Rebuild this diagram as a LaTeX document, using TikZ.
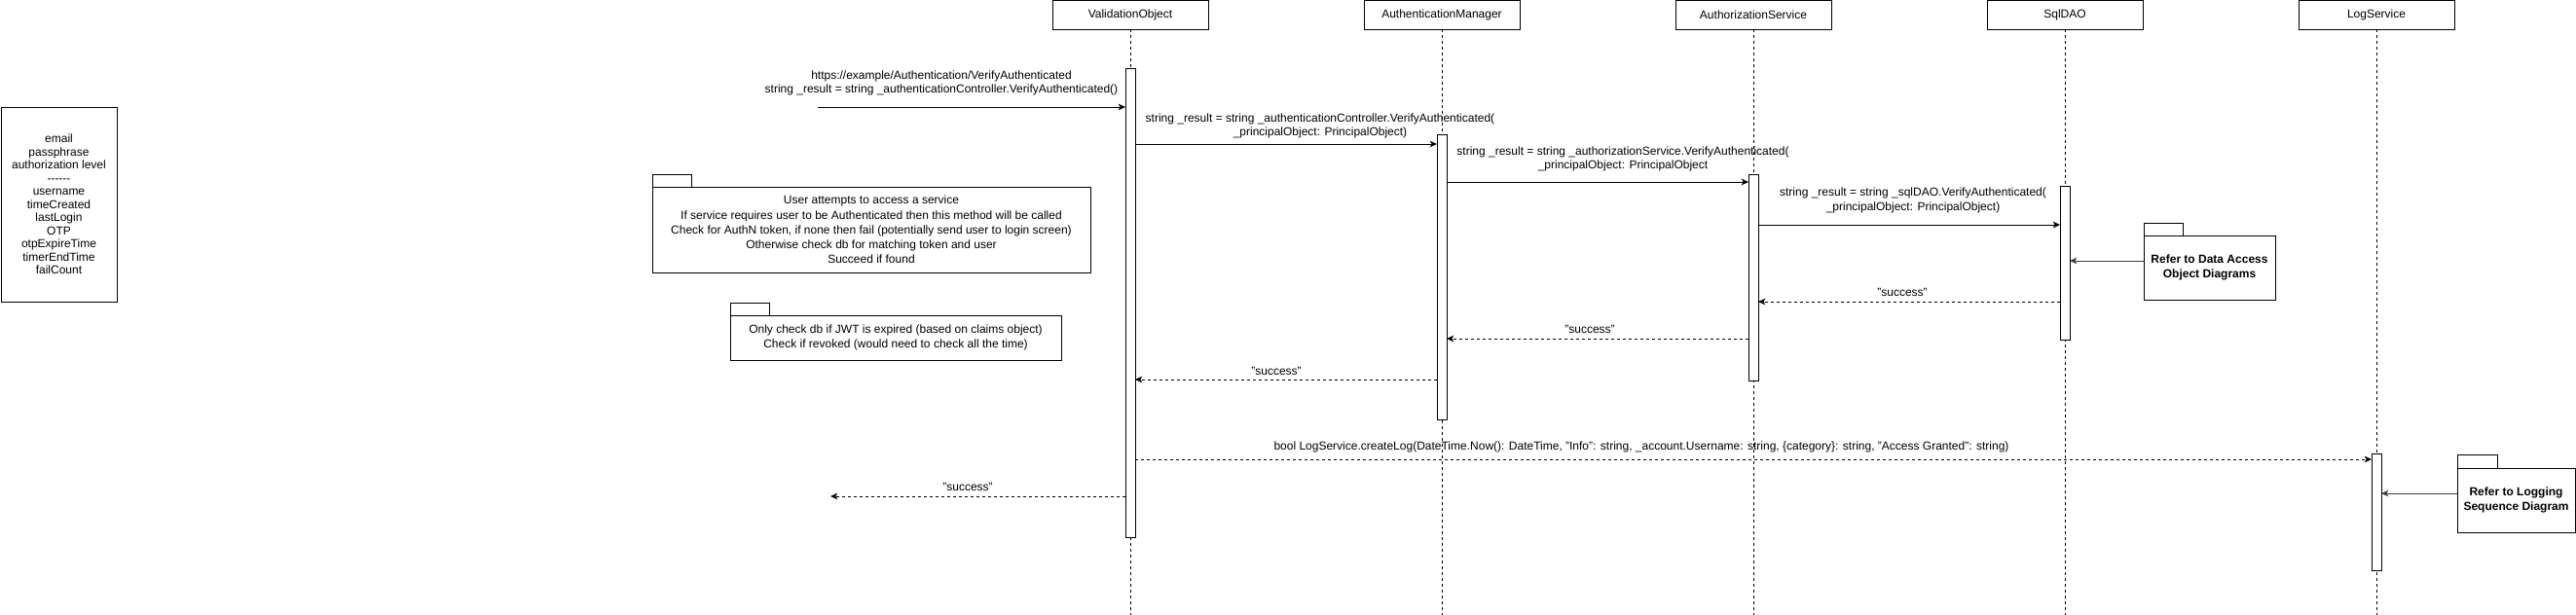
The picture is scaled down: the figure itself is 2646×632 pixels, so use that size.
\documentclass[tikz,border=0pt]{standalone}
\usepackage{fontspec}
\setmainfont{Liberation Sans}
\usetikzlibrary{arrows.meta}
\begin{document}
\begin{tikzpicture}[x=0.75pt,y=-0.75pt,
  every node/.style={font=\fontsize{9pt}{11pt}\selectfont, inner sep=0pt, outer sep=0pt},
  head/.style={draw, line width=0.75pt, minimum width=120pt, minimum height=22.5pt, fill=white},
  life/.style={line width=0.75pt, dash pattern=on 2.25pt off 2.25pt},
  actbox/.style={draw, line width=0.75pt, fill=white, minimum width=7.5pt, anchor=north},
  msg/.style={line width=0.75pt, -{Stealth[length=5.5pt,width=5pt,inset=1.5pt]}},
  ret/.style={msg, dash pattern=on 2.25pt off 2.25pt},
  notearrow/.style={msg, draw=black!75},
  lbl/.style={align=center},
  pkgbody/.style={draw, line width=0.75pt, align=center},
  pkgtab/.style={draw, line width=0.75pt, anchor=south west, minimum width=30pt, minimum height=9.75pt},
  ]
\useasboundingbox (0,0) rectangle (2646,632);
\fill[white] (0,0) rectangle (2646,632);

% left attribute box
\node[draw, line width=0.75pt, minimum width=89.25pt, minimum height=150pt, align=center,
      font=\fontsize{9pt}{10.1pt}\selectfont] (attrs) at (60.5,210)
  {email\\passphrase\\authorization level\\-{}-{}-{}-{}-{}-\\username\\timeCreated\\lastLogin\\OTP\\otpExpireTime\\timerEndTime\\failCount};

% lifeline heads
\node[head] (h1) at (1161,15) {ValidationObject};
\node[head] (h2) at (1481,15) {AuthenticationManager};
\node[head] (h3) at (1801,15) {AuthorizationService};
\node[head] (h4) at (2121,15) {SqlDAO};
\node[head] (h5) at (2441,15) {LogService};

\coordinate (bot) at (0,632);
\foreach \h in {h1,h2,h3,h4,h5}{
  \draw[life] (\h.south) -- (\h.south |- bot);
}

% activation boxes
\node[actbox, minimum height=361.5pt] (a1) at (1161,70) {};
\node[actbox, minimum height=219.75pt] (a2) at (1481,138) {};
\node[actbox, minimum height=159pt] (a3) at (1801,179) {};
\node[actbox, minimum height=118.5pt] (a4) at (2121,191) {};
\node[actbox, minimum height=90pt] (a5) at (2441,466) {};

% notes (package shapes)
\node[pkgbody, minimum width=337.5pt, minimum height=66pt, font=\fontsize{9pt}{11.4pt}\selectfont] (n1) at (895,236)
  {User attempts to access a service\\If service requires user to be Authenticated then this method will be called\\Check for AuthN token, if none then fail (potentially send user to login screen)\\Otherwise check db for matching token and user\\Succeed if found};
\node[pkgtab] (t1) at (n1.north west) {};

\node[pkgbody, minimum width=255pt, minimum height=34.5pt, font=\fontsize{9pt}{11.25pt}\selectfont] (n2) at (920,347)
  {Only check db if JWT is expired (based on claims object)\\Check if revoked (would need to check all the time)};
\node[pkgtab] (t2) at (n2.north west) {};

\node[pkgbody, minimum width=101.25pt, minimum height=49.5pt, font=\fontsize{9pt}{11.25pt}\selectfont\bfseries] (n3) at (2269.5,275)
  {Refer to Data Access\\Object Diagrams};
\node[pkgtab] (t3) at (n3.north west) {};

\node[pkgbody, minimum width=90.75pt, minimum height=49.5pt, font=\fontsize{9pt}{11.25pt}\selectfont\bfseries] (n4) at (2584.5,514)
  {Refer to Logging\\Sequence Diagram};
\node[pkgtab, minimum width=30.75pt, minimum height=10.5pt] (t4) at (n4.north west) {};

% y levels
\coordinate (src) at (840,110);
\coordinate (y1) at (0,148);
\coordinate (y2) at (0,187);
\coordinate (y3) at (0,231);
\coordinate (yn3) at (0,268);
\coordinate (y4) at (0,310);
\coordinate (y5) at (0,348);
\coordinate (y6) at (0,390);
\coordinate (y7) at (0,472);
\coordinate (yn4) at (0,507);
\coordinate (sink) at (853,510);

% messages
\draw[msg] (src) -- (a1.west |- src);
\draw[msg] (a1.east |- y1) -- (a2.west |- y1);
\draw[msg] (a2.east |- y2) -- (a3.west |- y2);
\draw[msg] (a3.east |- y3) -- (a4.west |- y3);
\draw[notearrow] (n3.west |- yn3) -- (a4.east |- yn3);
\draw[ret] (a4.west |- y4) -- (a3.east |- y4);
\draw[ret] (a3.west |- y5) -- (a2.east |- y5);
\draw[ret] (a2.west |- y6) -- (a1.east |- y6);
\draw[ret] (a1.east |- y7) -- (a5.west |- y7);
\draw[notearrow] (n4.west |- yn4) -- (a5.east |- yn4);
\draw[ret] (a1.west |- sink) -- (sink);

% labels
\node[lbl] (l0) at (967,85.5) {https://example/Authentication/VerifyAuthenticated\\string \_result = string \_authenticationController.VerifyAuthenticated()};
\node[lbl] (l1) at (1356,129.5) {string \_result = string \_authenticationController.VerifyAuthenticated(\\\_principalObject: PrincipalObject)};
\node[lbl] (l2) at (1667,163.5) {string \_result = string \_authorizationService.VerifyAuthenticated(\\\_principalObject: PrincipalObject};
\node[lbl] (l3) at (1965,206) {string \_result = string \_sqlDAO.VerifyAuthenticated(\\\_principalObject: PrincipalObject)};
\node[lbl] (l4) at (1954,300) {"success"};
\node[lbl] (l5) at (1633,338) {"success"};
\node[lbl] (l6) at (1311,381) {"success"};
\node[lbl] (l7) at (1686,459) {bool LogService.createLog(DateTime.Now(): DateTime, "Info": string, \_account.Username: string, \{category\}: string, "Access Granted": string)};
\node[lbl] (l8) at (994,500) {"success"};
\end{tikzpicture}
\end{document}
